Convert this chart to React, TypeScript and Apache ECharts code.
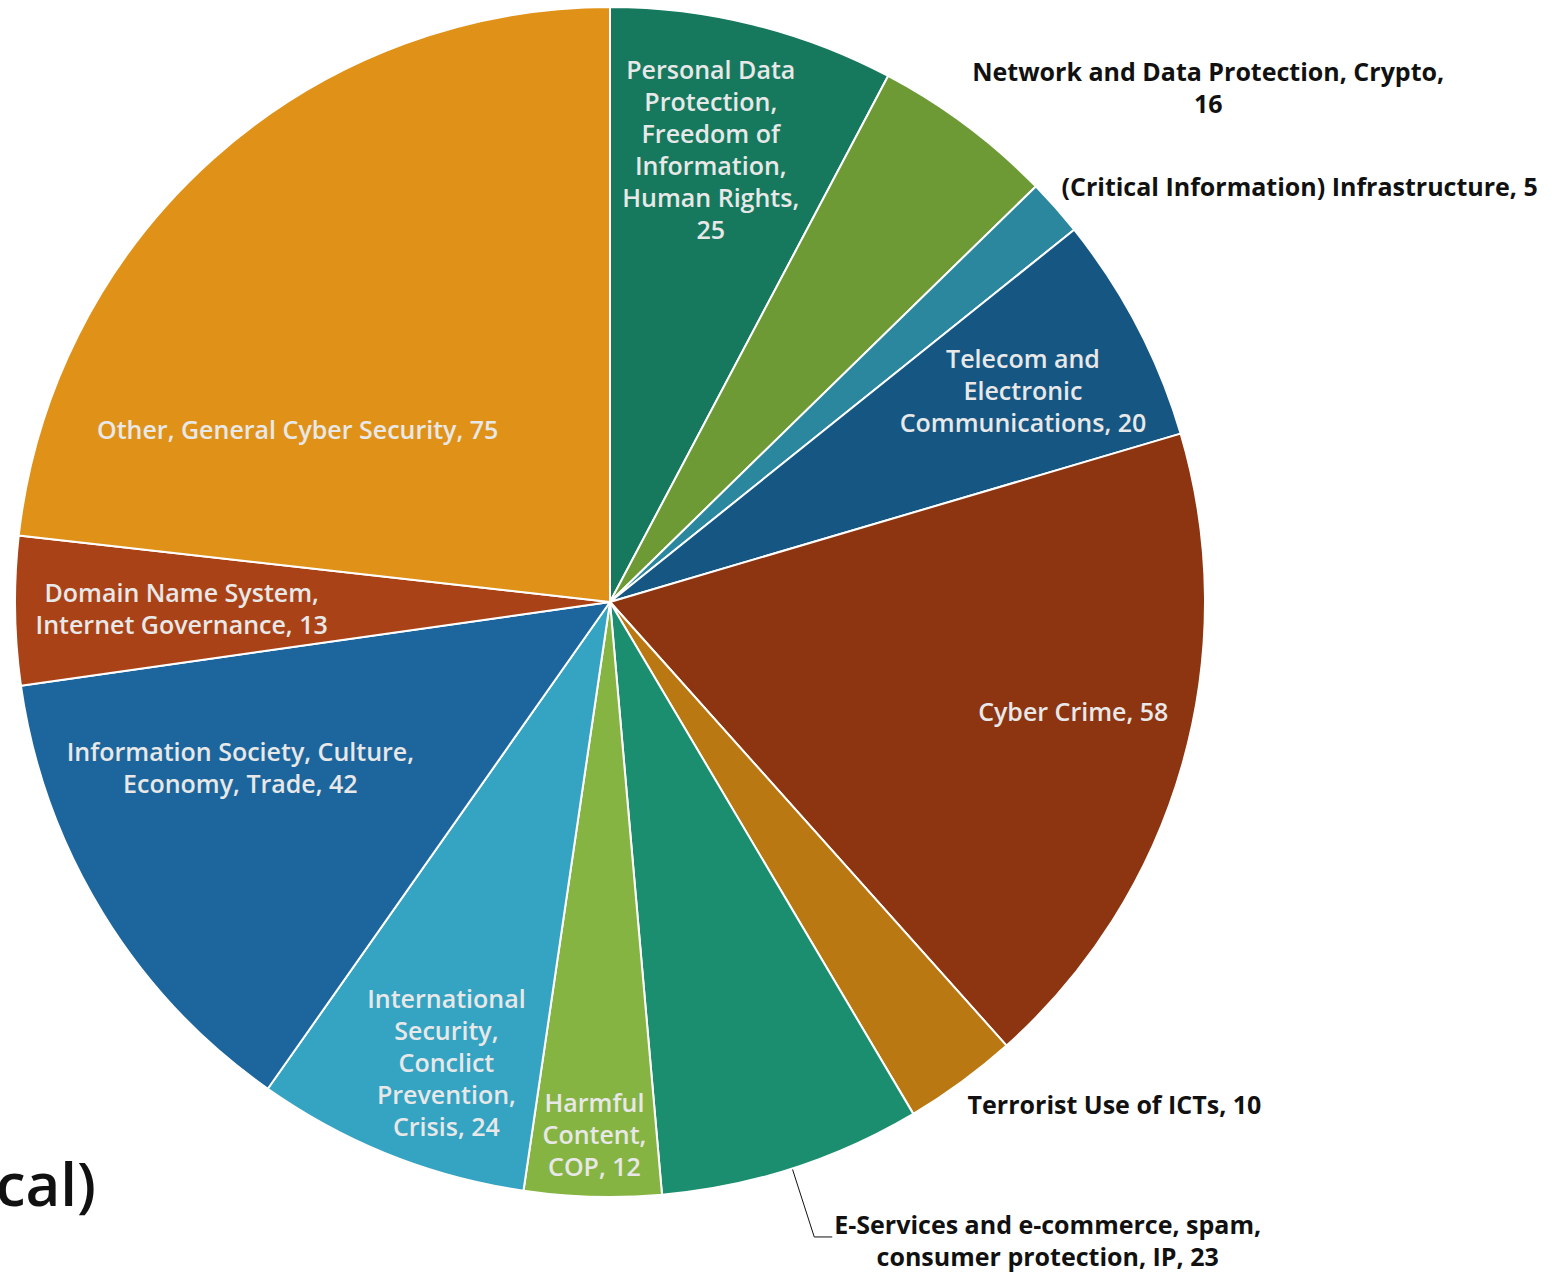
import React, { useEffect, useRef } from "react";
import * as echarts from "echarts";

const categories = [
  "Personal Data Protection, Freedom of Information, Human Rights",
  "Network and Data Protection, Crypto",
  "(Critical Information) Infrastructure",
  "Telecom and Electronic Communications",
  "Cyber Crime",
  "Terrorist Use of ICTs",
  "E-Services and e-commerce, spam, consumer protection, IP",
  "Harmful Content, COP",
  "International Security, Conclict Prevention, Crisis",
  "Information Society, Culture, Economy, Trade",
  "Domain Name System, Internet Governance",
  "Other, General Cyber Security",
];
const values = [25, 16, 5, 20, 58, 10, 23, 12, 24, 42, 13, 75];

// wrapped label text ({v} = value)
const labelTemplates = [
  "Personal Data\nProtection,\nFreedom of\nInformation,\nHuman Rights,\n{v}",
  "Network and Data Protection, Crypto,\n{v}",
  "(Critical Information) Infrastructure, {v}",
  "Telecom and\nElectronic\nCommunications, {v}",
  "Cyber Crime, {v}",
  "Terrorist Use of ICTs, {v}",
  "E-Services and e-commerce, spam,\nconsumer protection, IP, {v}",
  "Harmful\nContent,\nCOP, {v}",
  "International\nSecurity,\nConclict\nPrevention,\nCrisis, {v}",
  "Information Society, Culture,\nEconomy, Trade, {v}",
  "Domain Name System,\nInternet Governance, {v}",
  "Other, General Cyber Security, {v}",
];

const colors = [
  "#16795D", "#6E9A35", "#2A879E", "#165683", "#8D3411", "#BA7812",
  "#1B8E70", "#86B442", "#35A3C2", "#1C669D", "#A94317", "#E09218",
];

// label placement (style): kind, fraction through slice angle, fraction of radius
const labelKind = ["in", "out", "out", "in", "in", "out", "line", "in", "in", "in", "in", "in"];
const labelAngleFrac = [0.45, 0.5, 0.5, 0.52, 0.46, 0.5, 0.5, 0.5, 0.42, 0.66, 0.5, 0.27];
const labelRadiusFrac = [0.78, 1, 1, 0.78, 0.8, 1, 1, 0.895, 0.82, 0.68, 0.72, 0.6];

const CX = 610;
const CY = 602;
const R = 595;

export default function App() {
  const ref = useRef<HTMLDivElement>(null);
  useEffect(() => {
    if (!ref.current) return;
    const chart = echarts.init(ref.current, undefined, { renderer: "svg" });
    const total = values.reduce((a, b) => a + b, 0);
    const startOf = (i: number) =>
      (values.slice(0, i).reduce((a, b) => a + b, 0) / total) * 360;
    const endOf = (i: number) => startOf(i) + (values[i] / total) * 360;
    const pt = (deg: number, d: number) => {
      const a = (deg * Math.PI) / 180;
      return [CX + d * Math.sin(a), CY - d * Math.cos(a)];
    };

    const font = "'Open Sans', sans-serif";
    const data = categories.map((name, i) => {
      const kind = labelKind[i];
      const inside = kind === "in";
      const item: any = {
        name,
        value: values[i],
        itemStyle: { color: colors[i] },
        label: {
          position: inside ? "inside" : "outside",
          color: inside ? "#E8E8E8" : "#111111",
          fontWeight: inside ? 600 : 700,
          fontSize: 25,
        },
        labelLine: { show: kind === "line" },
      };
      return item;
    });

    chart.setOption({
      animation: false,
      backgroundColor: "#ffffff",
      graphic: [
        {
          type: "text",
          x: 96,
          y: 1183,
          style: {
            text: "cal)",
            align: "right",
            verticalAlign: "middle",
            fontSize: 60,
            fontWeight: 600,
            fontFamily: font,
            fill: "#111111",
          },
        },
      ],
      series: [
        {
          type: "pie",
          center: [CX, CY],
          radius: [0, R],
          startAngle: 90,
          clockwise: true,
          avoidLabelOverlap: false,
          itemStyle: { borderColor: "#ffffff", borderWidth: 2 },
          label: {
            show: true,
            fontSize: 25,
            lineHeight: 32,
            fontFamily: font,
            align: "center",
            formatter: (p: any) =>
              labelTemplates[p.dataIndex].replace("{v}", String(p.value)),
          },
          labelLine: {
            show: false,
            length: 72,
            length2: 18,
            lineStyle: { color: "#111111", width: 1 },
          },
          labelLayout: (params: any) => {
            const i = params.dataIndex;
            const s = startOf(i);
            const e = endOf(i);
            const kind = labelKind[i];
            const w = params.labelRect.width;
            const h = params.labelRect.height;
            if (kind === "in") {
              const a = s + labelAngleFrac[i] * (e - s);
              const [x, y] = pt(a, labelRadiusFrac[i] * R);
              return { x, y, align: "center", verticalAlign: "middle" };
            }
            const mid = (s + e) / 2;
            const edge = pt(mid, R);
            if (kind === "out") {
              const down = Math.cos((mid * Math.PI) / 180) < 0;
              const y = edge[1] + (down ? 1 : -1) * (h / 2 + 6);
              return { x: edge[0] + 6 + w / 2, y, align: "center", verticalAlign: "middle" };
            }
            const bend = pt(mid, R + 72);
            const end = [bend[0] + 18, bend[1]];
            return {
              x: end[0] + 2 + w / 2,
              y: end[1] + 3,
              align: "center",
              verticalAlign: "middle",
              labelLinePoints: [edge, bend, end],
            };
          },
          data,
        },
      ],
    });
    return () => chart.dispose();
  }, []);
  return (
    <div
      ref={ref}
      style={{ position: "absolute", left: 0, top: 0, width: 1567, height: 1273 }}
    />
  );
}
